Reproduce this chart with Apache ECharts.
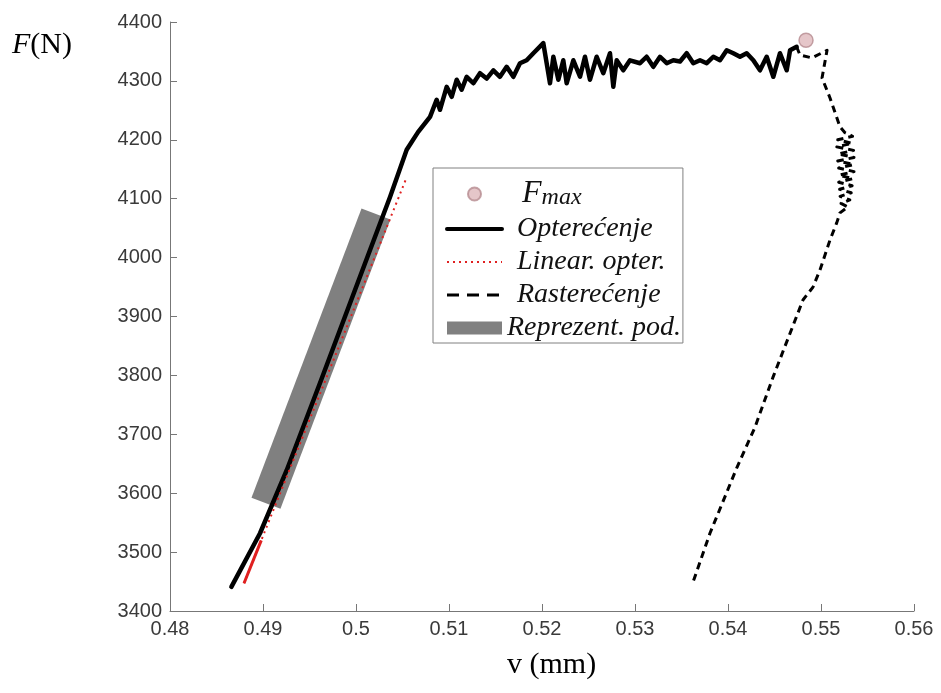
<!DOCTYPE html>
<html>
<head>
<meta charset="utf-8">
<script src="https://cdn.jsdelivr.net/npm/echarts@6/dist/echarts.min.js"></script>
<style>html,body{margin:0;padding:0;background:#fff}#c{width:941px;height:693px}</style>
</head>
<body>
<div id="c"></div>
<script>
// ---- data (v in mm, F in N) ----
const xTicks = [0.48, 0.56, 0.01];
const yTicks = [3400, 4400, 100];

const loading = [
  [0.4866,3441],[0.48968,3532],[0.49255,3639],[0.49613,3787],[0.50151,4013],[0.50366,4103],
  [0.50545,4183],[0.50667,4213],[0.50796,4239],[0.50867,4268],[0.50903,4251],[0.50975,4290],
  [0.51029,4273],[0.51083,4302],[0.51136,4285],[0.51190,4307],[0.51262,4296],[0.51333,4313],
  [0.51405,4304],[0.51477,4318],[0.51548,4307],[0.51620,4324],[0.51692,4307],[0.51763,4330],
  [0.51835,4335],[0.51907,4347],[0.52014,4364],[0.52050,4330],[0.52086,4296],[0.52122,4341],
  [0.52176,4302],[0.52229,4335],[0.52265,4296],[0.52337,4335],[0.52409,4307],[0.52462,4341],
  [0.52516,4302],[0.52588,4341],[0.52659,4313],[0.52731,4347],[0.52767,4290],[0.52803,4335],
  [0.52874,4318],[0.52946,4335],[0.53054,4330],[0.53125,4341],[0.53197,4324],[0.53269,4341],
  [0.53341,4330],[0.53412,4335],[0.53484,4333],[0.53556,4347],[0.53627,4330],[0.53699,4335],
  [0.53771,4330],[0.53842,4341],[0.53914,4335],[0.53986,4352],[0.54057,4347],[0.54129,4341],
  [0.54201,4347],[0.54272,4335],[0.54344,4318],[0.54416,4341],[0.54487,4307],[0.54559,4347],
  [0.54631,4318],[0.54667,4352],[0.54738,4358]
];

const unloading = [
  [0.54738,4358],[0.54774,4344],[0.54903,4339],[0.55065,4352],[0.55011,4305],[0.55097,4271],
  [0.55204,4222],[0.55258,4212],[0.55340,4206],[0.55180,4200],[0.55335,4194],[0.55170,4188],
  [0.55350,4182],[0.55185,4176],[0.55355,4170],[0.55180,4164],[0.55350,4158],[0.55190,4152],
  [0.55355,4146],[0.55195,4140],[0.55345,4134],[0.55190,4128],[0.55335,4122],[0.55200,4116],
  [0.55325,4110],[0.55205,4104],[0.55310,4098],[0.55215,4092],[0.55290,4086],[0.55204,4076],
  [0.55169,4059],[0.55097,4030],[0.54989,3979],[0.54914,3950],[0.54806,3928],[0.54484,3797],
  [0.54290,3712],[0.54097,3644],[0.53806,3532],[0.53613,3444]
];

const linearFit = [[0.48796,3447],[0.50534,4132]];
const linearDense = [[0.48796,3447],[0.48981,3520]];
const representative = [[0.49032,3583],[0.50215,4074]];
const fmaxPoint = [[0.54839,4369]];

const names = ['Fmax','Opterećenje','Linear. opter.','Rasterećenje','Reprezent. pod.'];

// ---- chart ----
const chart = echarts.init(document.getElementById('c'), null, {renderer:'canvas'});
const sans = 'Liberation Sans, Arial, sans-serif';
const serif = 'Liberation Serif, Times New Roman, serif';
const hidden = {color: 'rgba(0,0,0,0)', borderWidth: 0, opacity: 0};

chart.setOption({
  animation: false,
  backgroundColor: '#fff',
  grid: {left: 170, right: 27, top: 22, bottom: 82, containLabel: false},
  title: [
    {text: '{i|F}{n|(N)}', left: 12, top: 30, padding: 0,
     textStyle: {fontWeight: 'normal', rich: {
       i: {fontFamily: serif, fontStyle: 'italic', fontWeight: 'normal', fontSize: 30, color: '#000', lineHeight: 30},
       n: {fontFamily: serif, fontWeight: 'normal', fontSize: 30, color: '#000', lineHeight: 30}}}},
    {text: 'v (mm)', left: 507, top: 650, padding: 0,
     textStyle: {fontFamily: serif, fontWeight: 'normal', fontSize: 30, color: '#000', lineHeight: 30}}
  ],
  xAxis: {
    type: 'value', min: xTicks[0], max: xTicks[1], interval: xTicks[2],
    splitLine: {show: false},
    axisLine: {show: true, lineStyle: {color: '#777', width: 1}},
    axisTick: {show: true, inside: true, length: 7, lineStyle: {color: '#777'}},
    axisLabel: {margin: 8, fontFamily: sans, fontSize: 20, color: '#3a3a3a',
      formatter: v => String(Math.round(v * 100) / 100)}
  },
  yAxis: {
    type: 'value', min: yTicks[0], max: yTicks[1], interval: yTicks[2],
    splitLine: {show: false},
    axisLine: {show: true, lineStyle: {color: '#777', width: 1}},
    axisTick: {show: true, inside: true, length: 7, lineStyle: {color: '#777'}},
    axisLabel: {margin: 8, fontFamily: sans, fontSize: 20, color: '#3a3a3a',
      formatter: v => String(v)}
  },
  legend: {
    orient: 'vertical', left: 433, top: 168,
    padding: [10, 2, 1, 12],
    itemWidth: 55, itemHeight: 13, itemGap: 5,
    borderColor: '#808080', borderWidth: 1, backgroundColor: '#fff',
    selectedMode: false,
    textStyle: {fontFamily: serif, fontStyle: 'italic', fontSize: 28, color: '#111', lineHeight: 24,
      padding: [0, 0, 0, 10],
      rich: {
        f: {fontFamily: serif, fontStyle: 'italic', fontSize: 32, color: '#111', lineHeight: 26},
        s: {fontFamily: serif, fontStyle: 'italic', fontSize: 24, color: '#111', lineHeight: 20, padding: [8, 0, 0, 0]}
      }},
    formatter: n => n === 'Fmax' ? '{f|F}{s|max}' : n,
    data: [
      {name: names[0], icon: 'circle', textStyle: {padding: [0, 0, 0, 15]}},
      {name: names[1], itemStyle: hidden, lineStyle: {width: 4}},
      {name: names[2], itemStyle: hidden, lineStyle: {width: 2, type: [2, 4]}},
      {name: names[3], itemStyle: hidden, lineStyle: {width: 3, type: [12, 8]}},
      {name: names[4], icon: 'rect', textStyle: {padding: [0, 0, 0, 0]}}
    ]
  },
  series: [
    {name: names[4], type: 'line', data: representative, symbol: 'none', z: 1, silent: true,
     itemStyle: {color: '#808080'}, lineStyle: {color: '#808080', width: 31, cap: 'butt'}},
    {name: names[1], type: 'line', data: loading, symbol: 'none', z: 3, silent: true,
     itemStyle: {color: '#000'}, lineStyle: {color: '#000', width: 4.5, join: 'round', cap: 'round'}},
    {name: names[2], type: 'line', data: linearFit, symbol: 'none', z: 4, silent: true,
     itemStyle: {color: '#e02020'}, lineStyle: {color: '#e02020', width: 2, type: [2, 4]}},
    {name: 'linDense', type: 'line', data: linearDense, symbol: 'none', z: 4, silent: true,
     itemStyle: {color: '#e02020'}, lineStyle: {color: '#e02020', width: 3}},
    {name: names[3], type: 'line', data: unloading, symbol: 'none', z: 3, silent: true,
     itemStyle: {color: '#000'}, lineStyle: {color: '#000', width: 3, type: [7, 5], join: 'round'}},
    {name: names[0], type: 'scatter', data: fmaxPoint, symbol: 'circle', symbolSize: 14, z: 5, silent: true,
     itemStyle: {color: '#dfb8bb', borderColor: '#b58b90', borderWidth: 1.5}}
  ]
});
</script>
</body>
</html>
